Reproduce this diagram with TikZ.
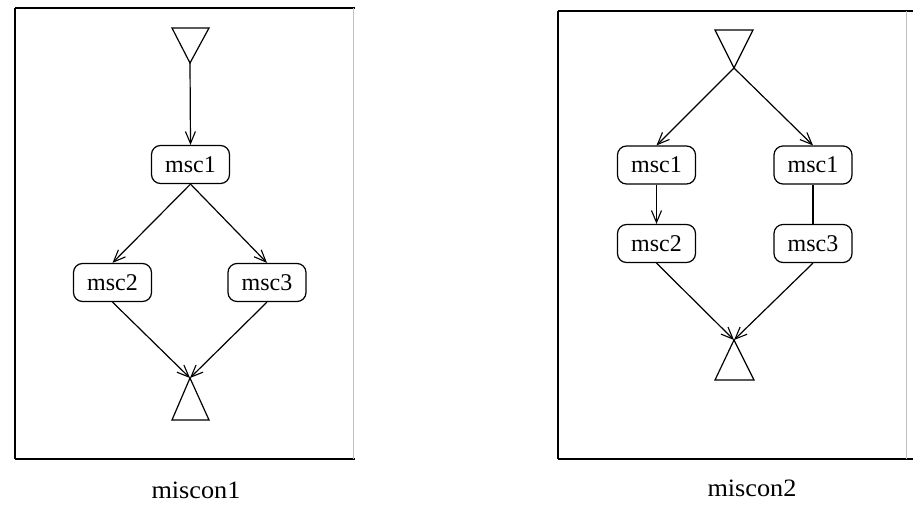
\documentclass[tikz,border=0pt]{standalone}
\usepackage{fontspec}
\setmainfont{Liberation Serif}
\usetikzlibrary{arrows.meta}
\begin{document}
\begin{tikzpicture}[x=1pt,y=-1pt,
  mscbox/.style={draw,rounded corners=9pt,minimum width=78pt,minimum height=38pt,
    inner sep=0pt,line width=1.2pt,font=\fontsize{24}{26}\selectfont},
  flow/.style={line width=1.2pt,-{Straight Barb[length=12pt,width=10pt,line width=1.1pt]}},
  plain/.style={line width=1.2pt},
  tri/.style={line width=1.2pt,line join=miter},
  caption/.style={font=\fontsize{25}{27}\selectfont,xscale=1.05}]
\useasboundingbox (0,0) rectangle (914,507);

% frames
\draw[line width=1.4pt] (15,8) -- (355,8);
\draw[line width=1.2pt] (15,8) -- (15,459);
\draw[line width=2pt] (15,459) -- (355,459);
\draw[line width=0.6pt,black!25] (353,8) -- (353,459);
\draw[line width=1.4pt] (558,11) -- (913,11);
\draw[line width=1.2pt] (558,11) -- (558,459);
\draw[line width=2pt] (558,459) -- (913,459);
\draw[line width=0.6pt,black!25] (906,11) -- (906,459);

% miscon1
\coordinate (s1) at (190,63);
\coordinate (e1) at (190,378);
\draw[tri] (172,28) -- (209,28) -- (s1) -- cycle;
\draw[tri] (e1) -- (209,420) -- (172,420) -- cycle;
\node[mscbox] (a1) at (190.5,164.5) {msc1};
\node[mscbox] (a2) at (112.5,282.5) {msc2};
\node[mscbox] (a3) at (267,282.5) {msc3};
\draw[flow] (s1) -- (a1.north);
\draw[flow] (a1.south) -- (a2.north);
\draw[flow] (a1.south) -- (a3.north);
\draw[flow] (a2.south) -- (e1);
\draw[flow] (a3.south) -- (e1);
\node[caption] (c1) at (196,490) {miscon1};

% miscon2
\coordinate (s2) at (734,68);
\coordinate (e2) at (734,340);
\draw[tri] (715,30) -- (753,30) -- (s2) -- cycle;
\draw[tri] (e2) -- (754,380) -- (715,380) -- cycle;
\node[mscbox] (b1) at (656.5,165) {msc1};
\node[mscbox] (b2) at (813,165) {msc1};
\node[mscbox] (b3) at (656.5,243.5) {msc2};
\node[mscbox] (b4) at (813,243.5) {msc3};
\draw[flow] (s2) -- (b1.north);
\draw[flow] (s2) -- (b2.north);
\draw[flow] (b1.south) -- (b3.north);
\draw[plain] (b2.south) -- (b4.north);
\draw[flow] (b3.south) -- (e2);
\draw[flow] (b4.south) -- (e2);
\node[caption] (c2) at (752,488) {miscon2};
\end{tikzpicture}
\end{document}
